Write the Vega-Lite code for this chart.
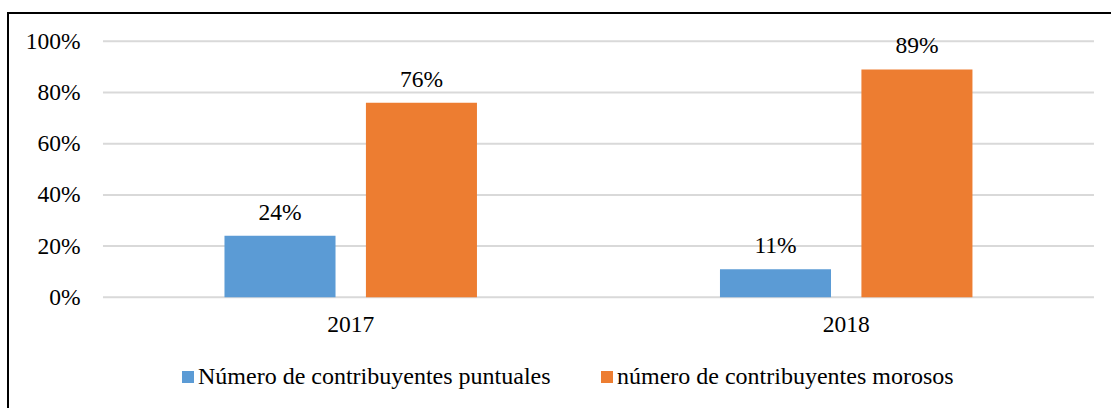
{
  "$schema": "https://vega.github.io/schema/vega-lite/v6.json",
  "width": 1110,
  "height": 400,
  "autosize": {"type": "none"},
  "padding": {"left": 8, "top": 13, "right": 0, "bottom": 0},
  "background": "white",
  "config": {
    "view": {"stroke": "#000000", "strokeWidth": 2},
    "font": "Liberation Serif",
    "axisY": {"offset": -95, "grid": false, "domain": false, "ticks": false, "labelPadding": 23, "labelFontSize": 23.5, "labelColor": "#000000", "labelFont": "Liberation Serif", "title": null},
    "axisX": {"offset": -116, "grid": false, "domain": false, "ticks": false, "labelPadding": 15, "labelFontSize": 23.5, "labelColor": "#000000", "labelFont": "Liberation Serif", "labelAngle": 0, "title": null}
  },
  "datasets": {
    "bars": [
      {"year": "2017", "serie": "Número de contribuyentes puntuales", "pct": 0.24},
      {"year": "2017", "serie": "número de contribuyentes morosos", "pct": 0.76},
      {"year": "2018", "serie": "Número de contribuyentes puntuales", "pct": 0.11},
      {"year": "2018", "serie": "número de contribuyentes morosos", "pct": 0.89}
    ],
    "grid": [{"g": 0}, {"g": 0.2}, {"g": 0.4}, {"g": 0.6}, {"g": 0.8}, {"g": 1}]
  },
  "layer": [
    {
      "data": {"name": "grid"},
      "mark": {"type": "rule", "color": "#d9d9d9", "strokeWidth": 2},
      "encoding": {
        "y": {"field": "g", "type": "quantitative", "scale": {"domain": [-0.452, 1.1105], "nice": false, "zero": false}, "axis": {"values": [0, 0.2, 0.4, 0.6, 0.8, 1], "format": ".0%"}},
        "x": {"datum": "2017", "type": "nominal", "bandPosition": 0, "scale": {"domain": ["2017", "2018"], "paddingInner": 0, "paddingOuter": 0.1201, "align": 0.798}},
        "x2": {"datum": "2018", "bandPosition": 1}
      }
    },
    {
      "data": {"name": "bars"},
      "mark": {"type": "bar"},
      "encoding": {
        "x": {"field": "year", "type": "nominal", "scale": {"domain": ["2017", "2018"], "paddingInner": 0, "paddingOuter": 0.1201, "align": 0.798}},
        "xOffset": {"field": "serie", "type": "nominal", "scale": {"paddingInner": 0.215, "paddingOuter": 0.859}},
        "y": {"field": "pct", "type": "quantitative", "scale": {"domain": [-0.452, 1.1105], "nice": false, "zero": false}, "axis": {"values": [0, 0.2, 0.4, 0.6, 0.8, 1], "format": ".0%"}},
        "color": {
          "field": "serie", "type": "nominal",
          "scale": {"domain": ["Número de contribuyentes puntuales", "número de contribuyentes morosos"], "range": ["#5b9bd5", "#ed7d31"]},
          "legend": {"title": null, "orient": "none", "legendX": 168, "legendY": 352, "direction": "horizontal", "columns": 2, "symbolType": "square", "symbolSize": 144, "symbolStrokeWidth": 0, "labelOffset": -2, "columnPadding": 44, "labelFontSize": 24, "labelFont": "Liberation Serif", "labelColor": "#000000", "padding": 0, "labelLimit": 0}
        }
      }
    },
    {
      "data": {"name": "bars"},
      "mark": {"type": "text", "dy": -16, "baseline": "alphabetic", "fontSize": 23.5, "color": "#000000", "font": "Liberation Serif"},
      "encoding": {
        "x": {"field": "year", "type": "nominal"},
        "xOffset": {"field": "serie", "type": "nominal"},
        "y": {"field": "pct", "type": "quantitative"},
        "text": {"field": "pct", "type": "quantitative", "format": ".0%"}
      }
    }
  ]
}
